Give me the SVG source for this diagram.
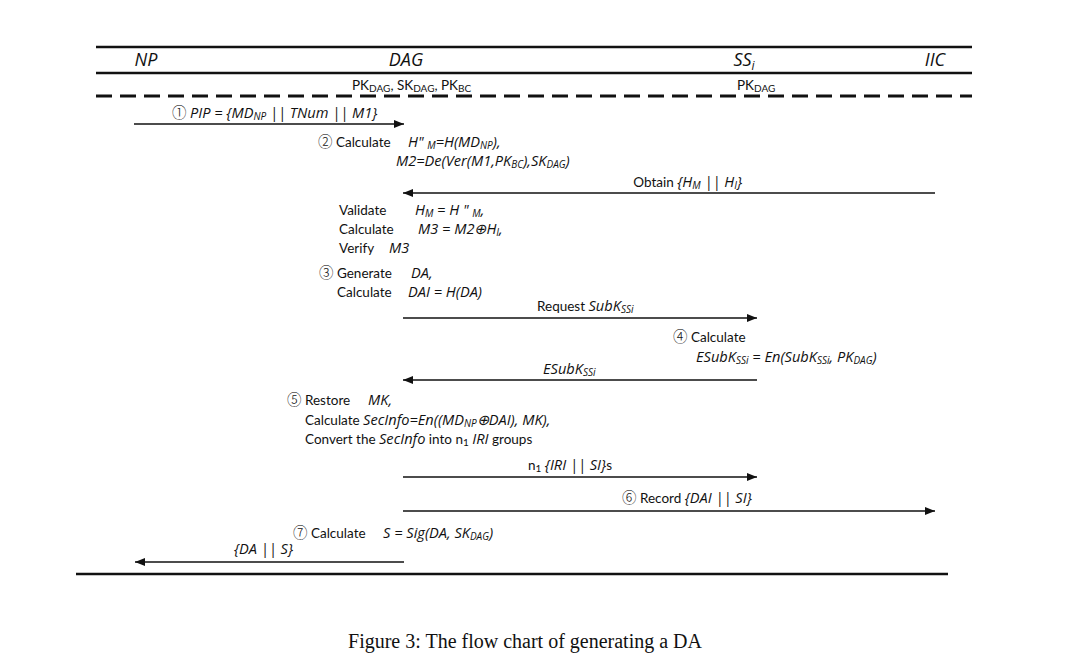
<svg xmlns="http://www.w3.org/2000/svg" width="1066" height="667" viewBox="0 0 1066 667">
<style>
text{font-family:Lato,"Open Sans","Liberation Sans",sans-serif;font-size:13.5px;fill:#111}
.i{font-family:"Open Sans",Lato,sans-serif;font-style:italic;font-size:14.6px}
.s{font-size:10px}
.c{font-family:"Noto Sans CJK SC","Noto Sans",sans-serif;font-size:14.5px;font-weight:300}
.hd{font-family:"Open Sans",Lato,sans-serif;font-style:italic;font-size:18px}
.rule{stroke:#111;stroke-width:2.5;fill:none}
.msg{stroke:#111;stroke-width:1.6;fill:none;marker-end:url(#ah)}
.cap{font-family:"Liberation Serif",serif;font-size:20px}
</style>
<defs>
<marker id="ah" viewBox="0 0 10 8" refX="10" refY="4" markerWidth="10" markerHeight="8" markerUnits="userSpaceOnUse" orient="auto">
<path d="M0,0 L10,4 L0,8 z" fill="#111"/>
</marker>
</defs>
<rect width="1066" height="667" fill="#fff"/>
<g id="frame">
<line class="rule" x1="96" y1="47" x2="972" y2="47"/>
<line class="rule" x1="96" y1="73" x2="972" y2="73"/>
<line x1="96" y1="96" x2="972" y2="96" stroke="#111" stroke-width="3" stroke-dasharray="16,8"/>
<line class="rule" x1="76" y1="574" x2="948" y2="574"/>
</g>
<g id="node-NP"><text class="hd" x="146" y="66" text-anchor="middle">NP</text></g>
<g id="node-DAG"><text class="hd" x="406" y="66" text-anchor="middle">DAG</text>
<text x="352" y="90">PK<tspan class="s" dy="2">DAG</tspan><tspan dy="-2">, SK</tspan><tspan class="s" dy="2">DAG</tspan><tspan dy="-2">, PK</tspan><tspan class="s" dy="2">BC</tspan></text></g>
<g id="node-SSi"><text class="hd" x="744" y="66" text-anchor="middle">SS<tspan style="font-size:12px" dy="4">i</tspan></text>
<text x="737" y="90">PK<tspan class="s" dy="2">DAG</tspan></text></g>
<g id="node-IIC"><text class="hd" x="935" y="66" text-anchor="middle">IIC</text></g>
<g id="connectors">
<line class="msg" x1="134" y1="124" x2="404" y2="124"/>
<line class="msg" x1="935" y1="193" x2="403" y2="193"/>
<line class="msg" x1="403" y1="318" x2="757" y2="318"/>
<line class="msg" x1="757" y1="380" x2="403" y2="380"/>
<line class="msg" x1="403" y1="477" x2="757" y2="477"/>
<line class="msg" x1="403" y1="511" x2="935" y2="511"/>
<line class="msg" x1="404" y1="562" x2="135" y2="562"/>
</g>
<g id="labels">
<text x="172" y="118"><tspan class="c">①</tspan> <tspan class="i">PIP = {MD</tspan><tspan class="s i" dy="2">NP</tspan><tspan class="i" dy="-2"> || TNum || M1}</tspan></text>
<text x="742" y="187" text-anchor="end">Obtain <tspan class="i">{H</tspan><tspan class="s i" dy="2">M</tspan><tspan class="i" dy="-2"> || H</tspan><tspan class="s i" dy="2">I</tspan><tspan class="i" dy="-2">}</tspan></text>
<text x="537" y="311">Request <tspan class="i">SubK</tspan><tspan class="s i" dy="2">SSi</tspan></text>
<text x="543" y="374" class="i">ESubK<tspan class="s" dy="2">SSi</tspan></text>
<text x="528" y="470">n<tspan class="s" dy="2">1</tspan><tspan dy="-2"> </tspan><tspan class="i">{IRI || SI}</tspan>s</text>
<text x="622" y="503"><tspan class="c">⑥</tspan> Record <tspan class="i">{DAI || SI}</tspan></text>
<text x="234" y="554" class="i">{DA || S}</text>
</g>
<g id="step2">
<text x="318" y="147"><tspan class="c">②</tspan> Calculate</text>
<text x="408" y="147" class="i">H" <tspan class="s" dy="1.5">M</tspan><tspan dy="-1.5">=H(MD</tspan><tspan class="s" dy="1.5">NP</tspan><tspan dy="-1.5">),</tspan></text>
<text x="396" y="166" class="i">M2=De(Ver(M1,PK<tspan class="s" dy="2">BC</tspan><tspan dy="-2">),SK</tspan><tspan class="s" dy="2">DAG</tspan><tspan dy="-2">)</tspan></text>
</g>
<g id="validate">
<text x="339" y="215">Validate</text>
<text x="415" y="215" class="i">H<tspan class="s" dy="2">M</tspan><tspan dy="-2"> = H " </tspan><tspan class="s" dy="2">M</tspan><tspan dy="-2">,</tspan></text>
<text x="339" y="234">Calculate</text>
<text x="418" y="234" class="i">M3 = M2⊕H<tspan class="s" dy="2">I</tspan><tspan dy="-2">,</tspan></text>
<text x="339" y="253">Verify</text>
<text x="389" y="253" class="i">M3</text>
</g>
<g id="step3">
<text x="319" y="278"><tspan class="c">③</tspan> Generate</text>
<text x="411" y="278" class="i">DA,</text>
<text x="337" y="297">Calculate</text>
<text x="408" y="297" class="i">DAI = H(DA)</text>
</g>
<g id="step4">
<text x="673" y="342"><tspan class="c">④</tspan>  Calculate</text>
<text x="696" y="362" class="i">ESubK<tspan class="s" dy="2">SSi</tspan><tspan dy="-2"> = En(SubK</tspan><tspan class="s" dy="2">SSi</tspan><tspan dy="-2">, PK</tspan><tspan class="s" dy="2">DAG</tspan><tspan dy="-2">)</tspan></text>
</g>
<g id="step5">
<text x="287" y="405"><tspan class="c">⑤</tspan> Restore</text>
<text x="368" y="405" class="i">MK,</text>
<text x="305" y="425">Calculate <tspan class="i">SecInfo=En((MD</tspan><tspan class="s i" dy="2">NP</tspan><tspan class="i" dy="-2">⊕DAI), MK),</tspan></text>
<text x="305" y="444">Convert the <tspan class="i">SecInfo</tspan> into n<tspan class="s" dy="2">1</tspan><tspan dy="-2"> </tspan><tspan class="i">IRI</tspan> groups</text>
</g>
<g id="step7">
<text x="293" y="538"><tspan class="c">⑦</tspan> Calculate</text>
<text x="383" y="538" class="i">S = Sig(DA, SK<tspan class="s" dy="2">DAG</tspan><tspan dy="-2">)</tspan></text>
</g>
<text class="cap" x="525" y="648" text-anchor="middle">Figure 3: The flow chart of generating a DA</text>
</svg>
